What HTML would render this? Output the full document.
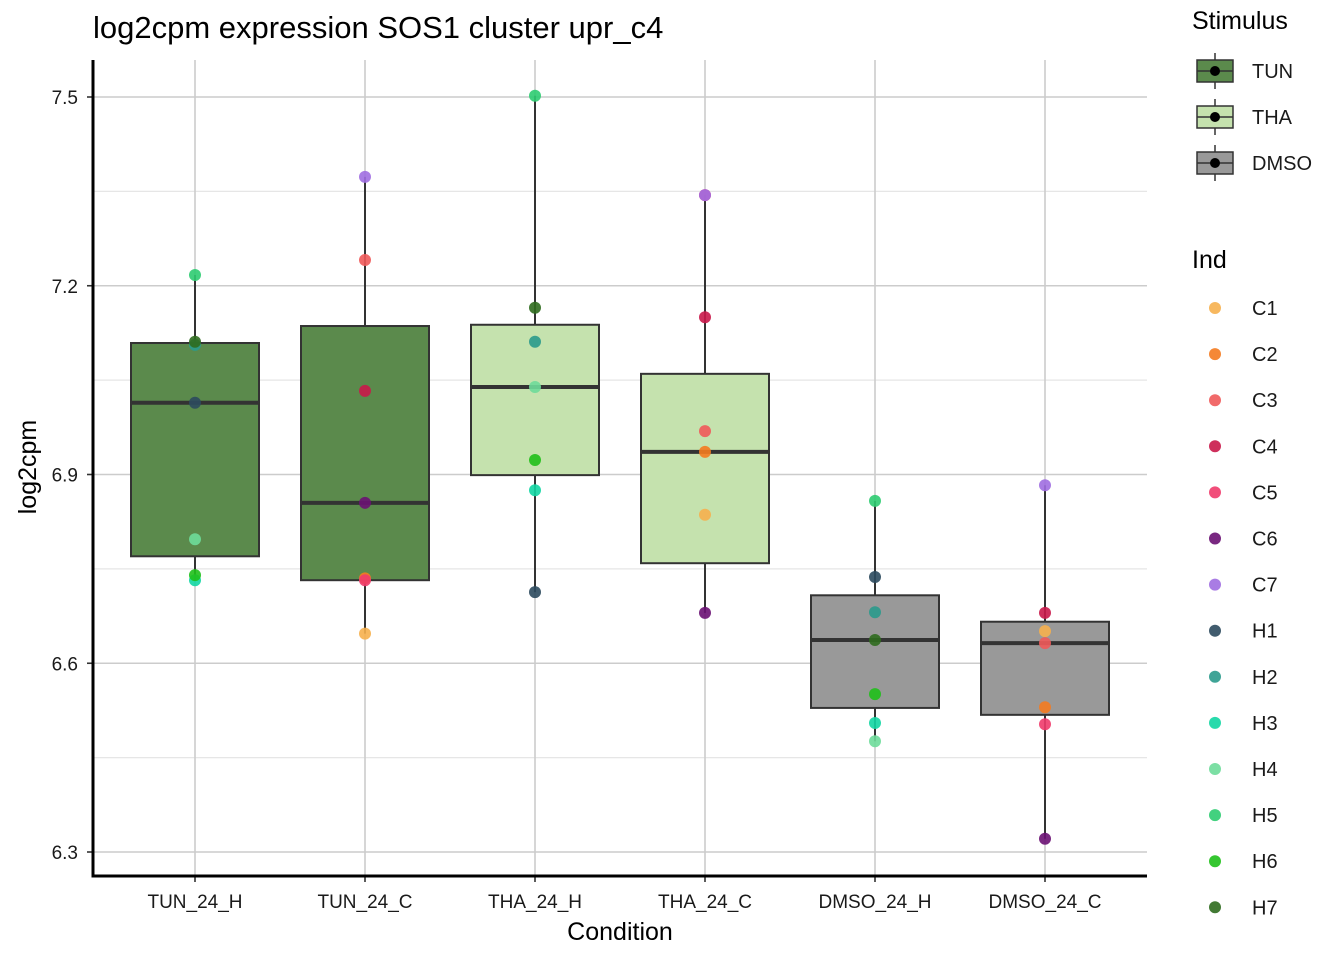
<!DOCTYPE html>
<html><head><meta charset="utf-8"><style>body{margin:0;background:#fff}svg text{font-family:"Liberation Sans",sans-serif}</style></head>
<body>
<svg id="c" width="1344" height="960" xmlns="http://www.w3.org/2000/svg"></svg>
<script>
const categories=["TUN_24_H","TUN_24_C","THA_24_H","THA_24_C","DMSO_24_H","DMSO_24_C"];
const stimulus=["TUN","TUN","THA","THA","DMSO","DMSO"];
const q1=[6.770,6.732,6.899,6.759,6.529,6.518];
const med=[7.014,6.855,7.039,6.936,6.637,6.632];
const q3=[7.109,7.136,7.138,7.060,6.708,6.666];
const wlo=[6.732,6.647,6.713,6.680,6.476,6.321];
const whi=[7.217,7.373,7.502,7.344,6.858,6.883];
const indH=["H1","H2","H3","H4","H5","H6","H7"];
const indC=["C1","C2","C3","C4","C5","C6","C7"];
const ptsTUN_H=[7.014,7.106,6.732,6.797,7.217,6.740,7.111];
const ptsTUN_C=[6.647,6.735,7.241,7.033,6.732,6.855,7.373];
const ptsTHA_H=[6.713,7.111,6.875,7.039,7.502,6.923,7.165];
const ptsTHA_C=[6.836,6.936,6.969,7.150,7.344,6.680,7.344];
const ptsDMSO_H=[6.737,6.681,6.505,6.476,6.858,6.551,6.637];
const ptsDMSO_C=[6.651,6.530,6.632,6.680,6.503,6.321,6.883];
const yTicks=[6.3,6.6,6.9,7.2,7.5];
const fills={TUN:"#5b8a4c",THA:"#c5e2ae",DMSO:"#999999"};
const indColors={C1:"#f6b04e",C2:"#f47b20",C3:"#ef5a5a",C4:"#c9184a",C5:"#ef3b6b",C6:"#6a1173",C7:"#a06ee1",H1:"#2c4a5e",H2:"#2a9a8c",H3:"#12d6a3",H4:"#6edc9a",H5:"#2ecc71",H6:"#1fc01a",H7:"#2f6b1e"};
const svg=document.getElementById('c');const NS="http://www.w3.org/2000/svg";
function mk(t,a,p){const e=document.createElementNS(NS,t);for(const k in a)e.setAttribute(k,a[k]);(p||svg).appendChild(e);return e;}
const X0=93,X1=1147,Y0=60,Y1=876;
const y=v=>852-(v-6.3)/0.3*188.75;
const x=i=>X0+(i+0.6)*170;
for(let v=6.45;v<7.6;v+=0.3){const g=mk('line',{x1:X0,x2:X1,y1:y(v),y2:y(v),stroke:'#e6e6e6','stroke-width':1.2});}
yTicks.forEach(v=>{const g=mk('line',{x1:X0,x2:X1,y1:y(v),y2:y(v),stroke:'#cccccc','stroke-width':1.6});});
categories.forEach((c,i)=>{const g=mk('line',{x1:x(i),x2:x(i),y1:Y0,y2:Y1,stroke:'#cccccc','stroke-width':1.6});});
const allPts=[ptsTUN_H,ptsTUN_C,ptsTHA_H,ptsTHA_C,ptsDMSO_H,ptsDMSO_C];
categories.forEach((c,i)=>{
 const g=mk('g',{});
 mk('line',{x1:x(i),x2:x(i),y1:y(whi[i]),y2:y(wlo[i]),stroke:'#333','stroke-width':2},g);
 mk('rect',{x:x(i)-64,y:y(q3[i]),width:128,height:y(q1[i])-y(q3[i]),fill:fills[stimulus[i]],stroke:'#333','stroke-width':2},g);
 mk('line',{x1:x(i)-64,x2:x(i)+64,y1:y(med[i]),y2:y(med[i]),stroke:'#333','stroke-width':4},g);
 const ids=c.endsWith('_H')?indH:indC;
 allPts[i].forEach((v,j)=>{const p=mk('circle',{cx:x(i),cy:y(v),r:6,fill:indColors[ids[j]],'fill-opacity':0.9},g);});
 const t=mk('text',{x:x(i),y:908,'font-size':19,'text-anchor':'middle',fill:'#1a1a1a'});t.textContent=c;
 mk('line',{x1:x(i),x2:x(i),y1:Y1,y2:Y1+6,stroke:'#333','stroke-width':1.6});
});
yTicks.forEach(v=>{const t=mk('text',{x:78,y:y(v)+7,'font-size':19,'text-anchor':'end',fill:'#1a1a1a'});t.textContent=v.toFixed(1);mk('line',{x1:X0-6,x2:X0,y1:y(v),y2:y(v),stroke:'#333','stroke-width':1.6});});
const ax=mk('line',{x1:X0,x2:X0,y1:Y0,y2:Y1+1.5,stroke:'#000','stroke-width':3});
const bx=mk('line',{x1:X0-1.5,x2:X1,y1:Y1,y2:Y1,stroke:'#000','stroke-width':3});
let t=mk('text',{x:93,y:38,'font-size':31,fill:'#000'});t.textContent='log2cpm expression SOS1 cluster upr_c4';
t=mk('text',{x:620,y:940,'font-size':25,'text-anchor':'middle',fill:'#000'});t.textContent='Condition';
t=mk('text',{x:0,y:0,'font-size':25,'text-anchor':'middle',fill:'#000',transform:'translate(36,467) rotate(-90)'});t.textContent='log2cpm';
t=mk('text',{x:1192,y:29,'font-size':25,fill:'#000'});t.textContent='Stimulus';
["TUN","THA","DMSO"].forEach((s,k)=>{const cy=71+46*k;const g=mk('g',{});
 mk('line',{x1:1215,x2:1215,y1:cy-18,y2:cy+18,stroke:'#333','stroke-width':1.5},g);
 mk('rect',{x:1197,y:cy-11,width:36,height:22,fill:fills[s],stroke:'#333','stroke-width':1.5},g);
 mk('line',{x1:1197,x2:1233,y1:cy,y2:cy,stroke:'#333','stroke-width':1.5},g);
 mk('circle',{cx:1215,cy:cy,r:5,fill:'#000'},g);
 const tt=mk('text',{x:1252,y:cy+7,'font-size':20,fill:'#1a1a1a'},g);tt.textContent=s;});
t=mk('text',{x:1192,y:268,'font-size':25,fill:'#000'});t.textContent='Ind';
indC.concat(indH).forEach((id,k)=>{const cy=308+46.1*k;const g=mk('g',{});
 mk('circle',{cx:1215,cy:cy,r:6,fill:indColors[id],'fill-opacity':0.9},g);
 const tt=mk('text',{x:1252,y:cy+7,'font-size':20,fill:'#1a1a1a'},g);tt.textContent=id;});
</script>
</body></html>
